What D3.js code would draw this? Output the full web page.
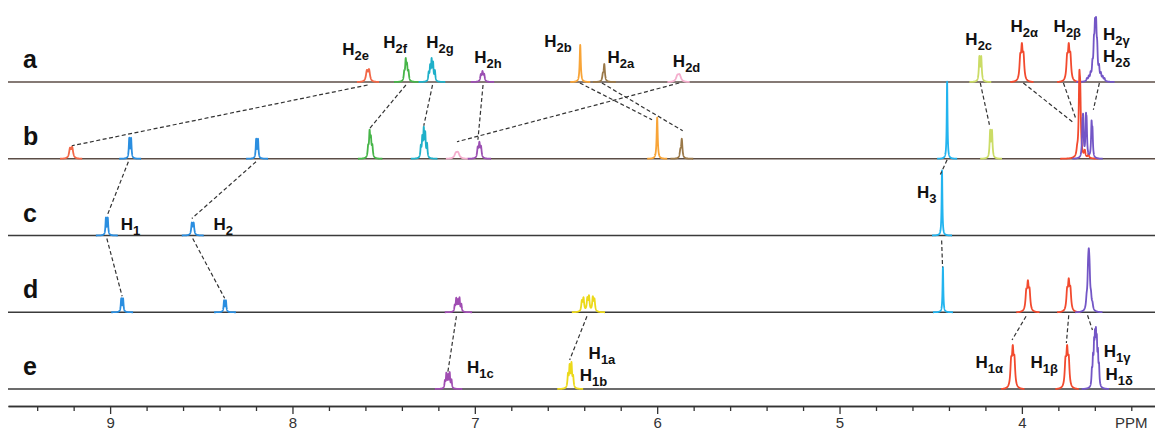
<!DOCTYPE html>
<html>
<head>
<meta charset="utf-8">
<script src="https://cdn.jsdelivr.net/npm/d3@7"></script>
<style>
  body { margin: 0; background: #fff; }
  text { font-family: "Liberation Sans", Arial, sans-serif; }
</style>
</head>
<body>
<svg id="chart" width="1155" height="430"></svg>
<script>
// ---- spectra rows (top to bottom) ----
const rows = ["a", "b", "c", "d", "e"];

// ---- axis ticks (ppm) ----
const majorTicks = [9, 8, 7, 6, 5, 4];
const minorTicks = [9.4, 9.2, 8.8, 8.6, 8.4, 8.2, 7.8, 7.6, 7.4, 7.2, 6.8, 6.6, 6.4, 6.2,
                    5.8, 5.6, 5.4, 5.2, 4.8, 4.6, 4.4, 4.2, 3.8, 3.6, 3.4];
const unitTick = 3.4;
const unitLabel = "PPM";

// ---- multiplet patterns: [offset ppm, relative intensity] ----
const pSinglet  = [[0, 1]];
const pDoublet  = [[-0.005, 1], [0.005, 1]];
const pDoubletW = [[-0.006, 1], [0.006, 0.9]];
const pTriplet  = [[-0.009, 0.75], [0, 1], [0.009, 0.7]];
const pF        = [[-0.012, 0.45], [-0.004, 0.7], [0.003, 1], [0.011, 0.4]];
const pG        = [[-0.016, 0.5], [-0.006, 0.85], [0.002, 1], [0.01, 0.7], [0.018, 0.4]];
const pShoulder = [[0, 1], [0.008, 0.35]];
const pQuint    = [[-0.016, 0.55], [-0.006, 1], [0.003, 0.8], [0.012, 0.95], [0.02, 0.45]];
const pWideM    = [[-0.033, 0.8], [-0.024, 0.95], [-0.003, 1], [0.006, 0.85], [0.027, 0.9], [0.036, 0.7]];
const pNarrowM  = [[-0.007, 1], [0.003, 0.9], [0.012, 0.55], [-0.016, 0.45]];
const pRedTall  = [[0, 1], [-0.005, 0.75], [-0.03, 0.1], [-0.05, 0.06], [0.012, 0.08]];
const pPurpleB  = [[0.028, 0.8], [0.024, 1], [0.009, 1], [0.005, 0.85], [-0.022, 0.95], [-0.027, 0.7]];
const pGD2      = [[-0.05, 0.06], [-0.04, 0.09], [-0.03, 0.14], [-0.02, 0.25], [-0.01, 0.55],
                   [-0.004, 1], [0.002, 0.95], [0.008, 0.65], [0.016, 0.3], [0.026, 0.14],
                   [0.036, 0.09], [0.046, 0.06]];
const pGD1d     = [[0.012, 0.25], [0.004, 0.8], [0, 1], [-0.004, 0.75], [-0.012, 0.3], [-0.02, 0.15]];
const pGD1e     = [[-0.02, 0.45], [-0.014, 0.7], [-0.008, 0.9], [-0.003, 1], [0.002, 0.95],
                   [0.007, 0.85], [0.013, 0.6], [0.019, 0.35]];

// ---- signals: [row, proton group, shift ppm, intensity, pattern, line half-width ppm] ----
const signalsA = [
  ["a", "H2e", 7.586, 13, pDoubletW, 0.006],
  ["a", "H2f", 7.376, 24, pF, 0.0035],
  ["a", "H2g", 7.235, 24, pG, 0.003],
  ["a", "H2h", 6.958, 11, pTriplet, 0.004],
  ["a", "H2b", 6.422, 37, pSinglet, 0.0035],
  ["a", "H2a", 6.290, 18, pShoulder, 0.004],
  ["a", "H2d", 5.883, 8, pDoubletW, 0.009],
  ["a", "H2c", 4.228, 26, pDoublet, 0.0035],
  ["a", "Hab", 4.000, 39, pTriplet, 0.005],
  ["a", "Hab", 3.743, 39, pTriplet, 0.005],
  ["a", "Hgd", 3.597, 65, pGD2, 0.0035]
];
const signalsB = [
  ["b", "H2e", 9.214, 12, pDoubletW, 0.006],
  ["b", "Hguest", 8.890, 21, pDoublet, 0.003],
  ["b", "Hguest", 8.194, 20, pDoublet, 0.003],
  ["b", "H2f", 7.574, 29, pF, 0.0035],
  ["b", "H2g", 7.278, 32, pG, 0.003],
  ["b", "H2d", 7.098, 7, pDoubletW, 0.009],
  ["b", "H2h", 6.975, 17, pTriplet, 0.004],
  ["b", "H2b", 6.000, 41, pSinglet, 0.0035],
  ["b", "H2a", 5.865, 20, pShoulder, 0.004],
  ["b", "H3", 4.410, 77, pSinglet, 0.0025],
  ["b", "H2c", 4.169, 29, pDoublet, 0.0035],
  ["b", "Hab", 3.685, 89, pRedTall, 0.004],
  ["b", "Hgd", 3.640, 46, pPurpleB, 0.003]
];
const signalsC = [
  ["c", "Hguest", 9.018, 18, pDoublet, 0.003],
  ["c", "Hguest", 8.547, 13, pDoublet, 0.004],
  ["c", "H3", 4.438, 65, pSinglet, 0.0025]
];
const signalsD = [
  ["d", "Hguest", 8.934, 14, pDoublet, 0.003],
  ["d", "Hguest", 8.370, 12, pDoublet, 0.003],
  ["d", "H1c", 7.090, 15, pQuint, 0.003],
  ["d", "H1ab", 6.377, 17, pWideM, 0.004],
  ["d", "H3", 4.433, 45, pSinglet, 0.0025],
  ["d", "Hab", 3.967, 32, pTriplet, 0.005],
  ["d", "Hab", 3.743, 34, pTriplet, 0.005],
  ["d", "Hgd", 3.633, 64, pGD1d, 0.004]
];
const signalsE = [
  ["e", "H1c", 7.144, 17, pQuint, 0.003],
  ["e", "H1ab", 6.477, 27, pNarrowM, 0.0035],
  ["e", "Hab", 4.050, 44, pTriplet, 0.005],
  ["e", "Hab", 3.752, 44, pTriplet, 0.005],
  ["e", "Hgd", 3.597, 62, pGD1e, 0.0028]
];

// ---- assignment labels: [row, ppm, level, subscript] ----
const labelsTop = [
  ["a", 7.727, 27, "2e"], ["a", 7.502, 34, "2f"], ["a", 7.267, 34, "2g"],
  ["a", 7.003, 19, "2h"], ["a", 6.619, 35, "2b"], ["a", 6.272, 19, "2a"],
  ["a", 5.914, 15, "2d"], ["a", 4.310, 37, "2c"], ["a", 4.063, 50, "2\u03b1"],
  ["a", 3.826, 50, "2\u03b2"], ["a", 3.555, 42, "2\u03b3"], ["a", 3.555, 20, "2\u03b4"]
];
const labelsBottom = [
  ["c", 8.942, 6, "1"], ["c", 8.433, 6, "2"], ["c", 4.575, 38, "3"],
  ["e", 7.043, 16, "1c"], ["e", 6.376, 30, "1a"], ["e", 6.425, 8, "1b"],
  ["e", 4.255, 21, "1\u03b1"], ["e", 3.953, 21, "1\u03b2"],
  ["e", 3.551, 32, "1\u03b3"], ["e", 3.542, 9, "1\u03b4"]
];

// ---- correlation lines: [fromRow, ppm, level, toRow, ppm, level] ----
const links = [
  ["a", 7.588, -3, "b", 9.210, 13],
  ["a", 7.378, -3, "b", 7.578, 30],
  ["a", 7.232, -3, "b", 7.280, 33],
  ["a", 6.955, -3, "b", 6.983, 19],
  ["a", 6.424, -1, "b", 6.028, 39],
  ["a", 6.303, -1, "b", 5.860, 28],
  ["a", 5.879, -1, "b", 7.098, 17],
  ["a", 4.228, -1, "b", 4.178, 34],
  ["a", 3.992, -1, "b", 3.717, 36],
  ["a", 3.772, -1, "b", 3.706, 41],
  ["a", 3.575, -1, "b", 3.608, 49],
  ["b", 8.900, -3, "c", 9.016, 20],
  ["b", 8.200, -3, "c", 8.552, 17],
  ["b", 4.410, -1, "c", 4.447, 61],
  ["c", 9.018, -3, "d", 8.934, 16],
  ["c", 8.547, -3, "d", 8.372, 14],
  ["c", 4.440, -5, "d", 4.435, 45],
  ["d", 7.101, -4, "e", 7.148, 17],
  ["d", 6.385, -4, "e", 6.480, 29],
  ["d", 3.977, -4, "e", 4.054, 49],
  ["d", 3.743, -3, "e", 3.756, 46],
  ["d", 3.640, -3, "e", 3.613, 59]
];

// ---- styling ----
const groupColor = {
  H2e: "#f26848", H2f: "#46b548", H2g: "#1fb0c9", H2h: "#9b4fb2",
  H2b: "#f8a437", H2a: "#9a7848", H2d: "#f4aecd", H2c: "#cbdc66",
  Hab: "#f24a2e", Hgd: "#7356c6", Hguest: "#2a8ee0", H3: "#22b4ef",
  H1ab: "#ecd91a", H1c: "#a04db2"
};
const rowLineColor = { a: "#5c4e47", b: "#5c4e47", c: "#3b3b3b", d: "#3b3b3b", e: "#3b3b3b" };

const W = 1155, H = 430;
const svg = d3.select("#chart");

const x = d3.scaleLinear().domain([9.56, 3.27]).range([8, W]);
const rowY = d3.scalePoint().domain(rows).range([82, 389]);
const level = d3.scaleLinear().domain([0, 100]).range([0, 100]);
const yAt = (row, v) => rowY(row) - level(v);

// row baselines
svg.append("g").selectAll("line").data(rows).join("line")
  .attr("x1", x(9.56)).attr("x2", x(3.27))
  .attr("y1", d => rowY(d)).attr("y2", d => rowY(d))
  .attr("stroke", d => rowLineColor[d]).attr("stroke-width", 1.6);

// row letters
svg.append("g").selectAll("text").data(rows).join("text")
  .attr("x", 23).attr("y", d => rowY(d) - 14)
  .attr("font-size", 25).attr("font-weight", "bold").attr("fill", "#111")
  .text(d => d);

// Lorentzian line shape for one multiplet
function tracePoints(sig) {
  const [, , c, h, lines, g] = sig;
  const maxOff = d3.max(lines, l => Math.abs(l[0]));
  const span = maxOff + 0.055;
  const pts = d3.range(c - span, c + span, 0.0004).map(p => {
    let s = 0;
    for (const [off, rel] of lines) {
      const u = (p - c - off) / g;
      s += rel / (1 + u * u);
    }
    return [p, s];
  });
  const peak = d3.max(pts, d => d[1]);
  const base = Math.min(pts[0][1], pts[pts.length - 1][1]);
  return pts.map(([p, s]) => [p, Math.max(0, (s - base) / (peak - base)) * h]);
}

const allSignals = [...signalsA, ...signalsB, ...signalsC, ...signalsD, ...signalsE];
const gSig = svg.append("g");
allSignals.forEach(sig => {
  const row = sig[0];
  const line = d3.line().x(d => x(d[0])).y(d => yAt(row, d[1]));
  gSig.append("path")
    .attr("d", line(tracePoints(sig)))
    .attr("fill", "none")
    .attr("stroke", groupColor[sig[1]])
    .attr("stroke-width", 1.8)
    .attr("stroke-linejoin", "round");
});

// dashed correlation lines
svg.append("g").selectAll("line").data(links).join("line")
  .attr("x1", d => x(d[1])).attr("y1", d => yAt(d[0], d[2]))
  .attr("x2", d => x(d[4])).attr("y2", d => yAt(d[3], d[5]))
  .attr("stroke", "#333").attr("stroke-width", 1.2)
  .attr("stroke-dasharray", "4,2.5");

// proton assignment labels
function drawLabels(list) {
  const t = svg.append("g").selectAll("text").data(list).join("text")
    .attr("x", d => x(d[1])).attr("y", d => yAt(d[0], d[2]))
    .attr("font-weight", "bold").attr("fill", "#111").attr("font-size", 17);
  t.append("tspan").text("H");
  t.append("tspan").attr("font-size", 13).attr("dy", 5).text(d => d[3]);
}
drawLabels(labelsTop);
drawLabels(labelsBottom);

// ppm axis
const axisY = 406;
const minorAxis = d3.axisBottom(x).tickValues(minorTicks).tickSize(5).tickSizeOuter(0).tickFormat("");
const majorAxis = d3.axisBottom(x).tickValues(majorTicks).tickSize(8).tickSizeOuter(0).tickPadding(3)
  .tickFormat(d3.format("d"));
const gMinor = svg.append("g").attr("transform", `translate(0,${axisY})`).call(minorAxis);
const gMajor = svg.append("g").attr("transform", `translate(0,${axisY})`).call(majorAxis);
[gMinor, gMajor].forEach(g => {
  g.select(".domain").attr("stroke", "#333").attr("stroke-width", 1.5);
  g.selectAll(".tick line").attr("stroke", "#333").attr("stroke-width", 1.3);
  g.selectAll("text").attr("font-size", 15).attr("fill", "#333")
    .attr("font-family", "'Liberation Sans', Arial, sans-serif");
});
gMajor.append("text")
  .attr("x", x(unitTick)).attr("y", 11).attr("dy", "0.71em")
  .attr("text-anchor", "middle").attr("fill", "#333").attr("font-size", 15)
  .text(unitLabel);
</script>
</body>
</html>
